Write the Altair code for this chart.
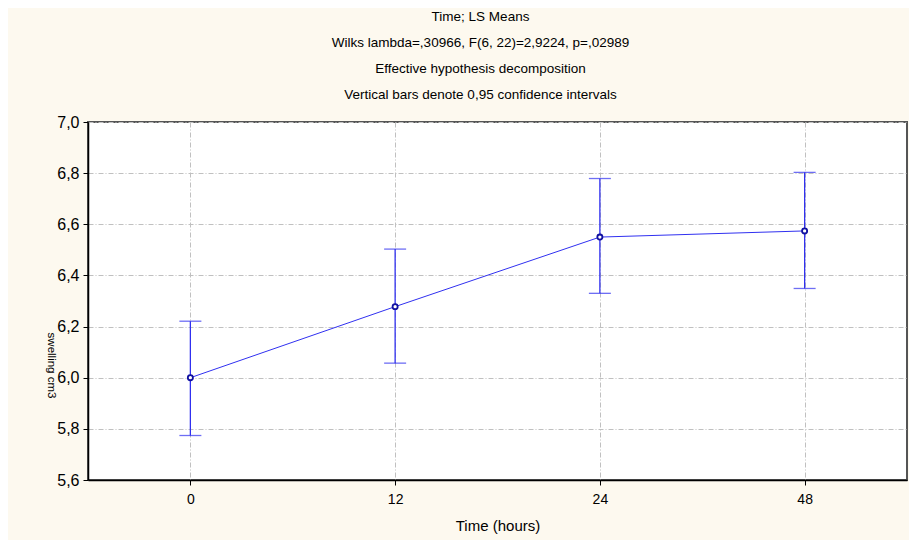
import altair as alt
import pandas as pd

time_labels = ["0", "12", "24", "48"]
means = [6.00, 6.278, 6.550, 6.574]
lower = [5.774, 6.057, 6.330, 6.349]
upper = [6.221, 6.503, 6.779, 6.803]

df = pd.DataFrame({"time": time_labels, "mean": means, "lo": lower, "hi": upper})

FONT = "Liberation Sans"
BLUE = "#3030f0"

x = alt.X("time:O", sort=time_labels,
          scale=alt.Scale(type="point", padding=0.5),
          axis=alt.Axis(title="Time (hours)", labelAngle=0, labelFontSize=14,
                        titleFontSize=15, titleFontWeight="normal", labelPadding=7,
                        titlePadding=12, domainColor="#000000", domainWidth=1.5,
                        tickColor="#000000", tickSize=5,
                        gridColor="#c0c0c0", gridDash=[5, 2, 1, 2], grid=True))
yscale = alt.Scale(domain=[5.6, 7.0], nice=False, zero=False)
yaxis = alt.Axis(title="swelling cm3", titleAngle=90, titleFontSize=11.5,
                 titleFontWeight="normal", titleX=-43, titleY=243,
                 values=[5.6, 5.8, 6.0, 6.2, 6.4, 6.6, 6.8, 7.0],
                 labelExpr="replace(format(datum.value, '.1f'), '.', ',')",
                 labelFontSize=16, labelPadding=4, domainColor="#000000",
                 domainWidth=1.5, tickColor="#000000", tickSize=5,
                 gridColor="#c0c0c0", gridDash=[5, 2, 1, 2])

base = alt.Chart(df)

rule = base.mark_rule(color=BLUE, strokeWidth=1.3).encode(
    x=x, y=alt.Y("lo:Q", scale=yscale, axis=yaxis), y2="hi:Q")
caps_hi = base.mark_tick(color=BLUE, thickness=1.3, size=22).encode(
    x=x, y=alt.Y("hi:Q", scale=yscale))
caps_lo = base.mark_tick(color=BLUE, thickness=1.3, size=22).encode(
    x=x, y=alt.Y("lo:Q", scale=yscale))
line = base.mark_line(color=BLUE, strokeWidth=1).encode(
    x=x, y=alt.Y("mean:Q", scale=yscale))
pts = base.mark_point(shape="circle", filled=False, fill="white", fillOpacity=1,
                      stroke="#1010a0", strokeWidth=1.8, size=26).encode(
    x=x, y=alt.Y("mean:Q", scale=yscale))

chart = alt.layer(rule, caps_hi, caps_lo, line, pts).properties(
    width=819, height=358,
    padding={"left": 80, "top": 114, "right": 2, "bottom": 60},
    autosize=alt.AutoSizeParams(type="none"),
    background="#fdf9ef",
    title=alt.TitleParams(
        text=["Time; LS Means",
              "Wilks lambda=,30966, F(6, 22)=2,9224, p=,02989",
              "Effective hypothesis decomposition",
              "Vertical bars denote 0,95 confidence intervals"],
        fontSize=13.5, fontWeight="normal", font=FONT, lineHeight=26.3,
        anchor="middle", dx=-17, offset=12, color="#000000"),
).configure(font=FONT).configure_view(
    fill="white", stroke="#555555", strokeWidth=2
).configure_axis(labelFont=FONT, titleFont=FONT, labelColor="#000000",
                 titleColor="#000000")

chart.save("out.html", embed_options={"renderer": "svg", "actions": False})
